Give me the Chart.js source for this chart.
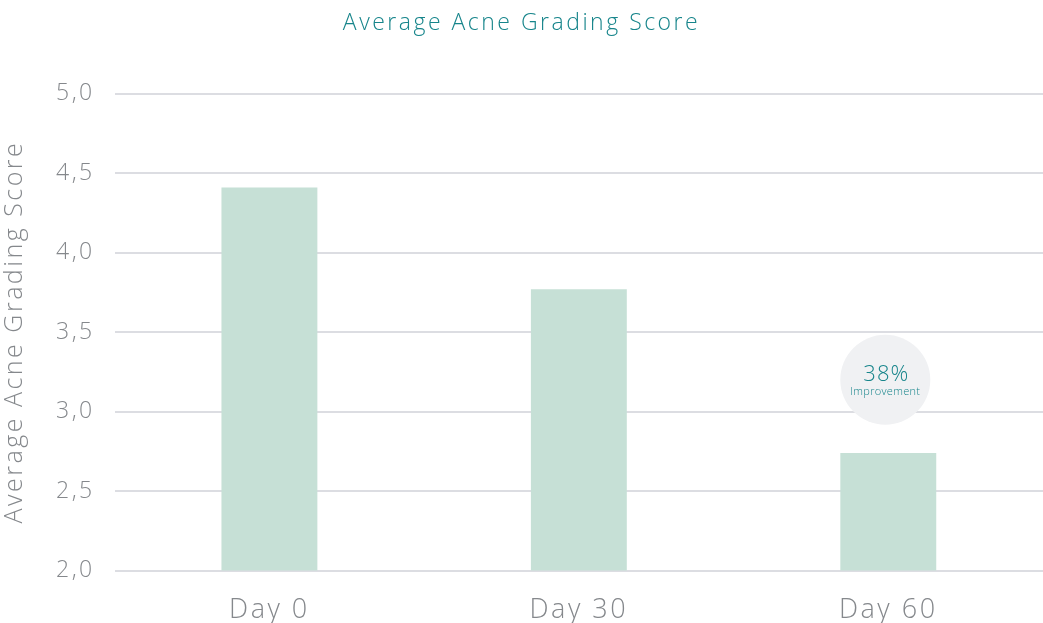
<!DOCTYPE html>
<html>
<head>
<meta charset="utf-8">
<script src="https://cdn.jsdelivr.net/npm/chart.js@4/dist/chart.umd.min.js"></script>
<style>
  html, body { margin: 0; padding: 0; background: #fff; }
  #wrap { width: 1043px; height: 623px; position: relative; }
</style>
</head>
<body>
<div id="wrap"><canvas id="chart"></canvas></div>
<script>
// chart data
const days = ['Day 0', 'Day 30', 'Day 60']
const scores = [4.41, 3.77, 2.74]
const improvementLabel = '38%'
const improvementText = 'Improvement'
const improvementAt = { index: 2, value: 3.2 }

const FONT = '"Open Sans", sans-serif'
const TEAL = '#17858b'
const GREY = '#85888c'
const SPACING = '2.5px'

// the original typeface is wide and airy, so open up the letters a bit
const spacingPlugin = {
  id: 'spacing',
  beforeUpdate(chart) { chart.ctx.letterSpacing = SPACING },
  beforeDraw(chart) { chart.ctx.letterSpacing = SPACING }
}

// draws the grey "improvement" bubble over the last bar
const bubblePlugin = {
  id: 'bubble',
  afterDatasetsDraw(chart) {
    const { ctx, scales } = chart
    const x = scales.x.getPixelForValue(improvementAt.index) - 3
    const y = scales.y.getPixelForValue(improvementAt.value)
    ctx.save()
    ctx.beginPath()
    ctx.arc(x, y, 45, 0, Math.PI * 2)
    ctx.fillStyle = '#f0f1f3'
    ctx.fill()
    ctx.fillStyle = TEAL
    ctx.textAlign = 'center'
    ctx.textBaseline = 'middle'
    ctx.letterSpacing = '1px'
    ctx.font = '300 22px ' + FONT
    ctx.fillText(improvementLabel, x + 1, y - 5)
    ctx.letterSpacing = '0.3px'
    ctx.font = '300 11px ' + FONT
    ctx.fillText(improvementText, x, y + 12)
    ctx.restore()
  }
}

new Chart(document.getElementById('chart'), {
  type: 'bar',
  data: {
    labels: days,
    datasets: [{
      data: scores,
      backgroundColor: '#c6e0d6',
      borderWidth: 0,
      categoryPercentage: 1,
      barPercentage: 0.31
    }]
  },
  options: {
    responsive: true,
    maintainAspectRatio: false,
    animation: false,
    layout: { padding: { top: 0, right: 0, bottom: -28, left: 0 } },
    plugins: {
      legend: { display: false },
      tooltip: { enabled: false },
      title: {
        display: true,
        text: 'Average Acne Grading Score',
        color: TEAL,
        font: { family: FONT, size: 23, weight: '300' },
        padding: { top: 10, bottom: 56 }
      }
    },
    scales: {
      x: {
        grid: { display: false, drawTicks: false },
        border: { display: false },
        ticks: {
          color: GREY,
          padding: 24,
          font: { family: FONT, size: 27, weight: '300' }
        }
      },
      y: {
        min: 2,
        max: 5,
        grid: { color: '#dcdde2', lineWidth: 2, drawTicks: false },
        border: { display: false },
        ticks: {
          stepSize: 0.5,
          color: GREY,
          padding: 20,
          font: { family: FONT, size: 23, weight: '300' },
          callback: function(value) { return value.toFixed(1).replace('.', ',') }
        },
        title: {
          display: true,
          text: 'Average Acne Grading Score',
          color: GREY,
          font: { family: FONT, size: 25, weight: '300' },
          padding: { top: 0, bottom: 6 }
        }
      }
    }
  },
  plugins: [spacingPlugin, bubblePlugin]
})
</script>
</body>
</html>
